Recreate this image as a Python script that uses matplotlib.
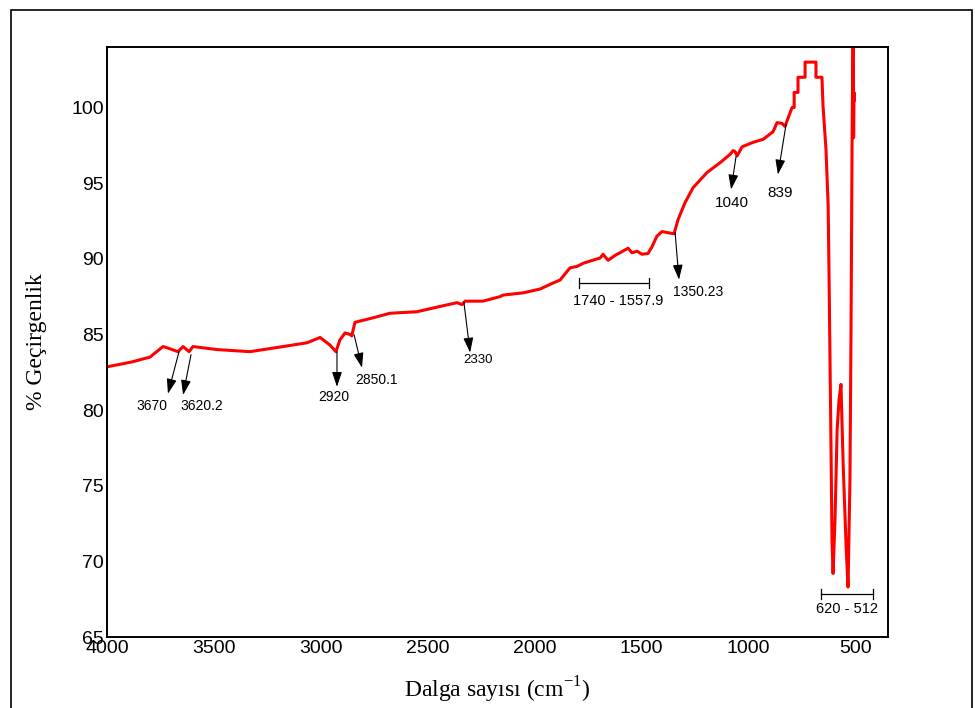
import matplotlib
matplotlib.use('Agg')
import matplotlib.pyplot as plt
from matplotlib.patches import Rectangle

# FTIR spectrum
wavenumber = [4000, 3930, 3878, 3840, 3799, 3738, 3705, 3668, 3644, 3616, 3598, 3485,
              3331, 3176, 3064, 3003, 2957, 2929, 2910, 2886, 2863, 2855,
              2840, 2755, 2676, 2550, 2442, 2362, 2339, 2325, 2241, 2161,
              2147, 2053, 1974, 1913, 1880, 1834, 1800, 1773, 1740, 1693, 1679, 1656,
              1620, 1600, 1562, 1544, 1520, 1497, 1469, 1450, 1427, 1403, 1366, 1347,
              1328, 1296, 1258, 1193, 1132, 1085, 1071, 1062, 1052, 1029,
              977, 930, 884, 865, 842, 828, 795,
              785, 785, 767, 767, 734, 734, 683, 683, 655,
              650, 636, 626, 622, 612, 608, 603, 594, 584, 575, 566,
              556, 542, 533, 524, 519, 514, 509, 507, 505, 503]
transmittance = [82.86, 83.05, 83.2, 83.35, 83.5, 84.2, 84.05, 83.86, 84.2, 83.86, 84.2, 84.0,
                 83.86, 84.2, 84.45, 84.8, 84.3, 83.86, 84.65, 85.1, 85.0, 84.9,
                 85.8, 86.1, 86.4, 86.5, 86.85, 87.1, 86.97, 87.2, 87.2, 87.5,
                 87.6, 87.75, 88.0, 88.4, 88.6, 89.4, 89.5, 89.7, 89.85, 90.05, 90.3, 89.9,
                 90.25, 90.4, 90.7, 90.4, 90.5, 90.3, 90.35, 90.8, 91.5, 91.8, 91.7, 91.66,
                 92.6, 93.7, 94.7, 95.7, 96.35, 96.9, 97.15, 97.1, 96.8, 97.4,
                 97.7, 97.9, 98.4, 99.0, 98.95, 98.75, 100.0,
                 100.0, 101.0, 101.0, 102.0, 102.0, 103.0, 103.0, 102.0, 102.0,
                 100.1, 97.2, 93.5, 89.1, 76.7, 71.4, 69.2, 72.7, 78.7, 80.7, 81.7,
                 76.5, 71.0, 68.3, 75.4, 85.3, 97.9, 106.0, 98.0, 101.0, 100.5]

# peak labels: (text, arrow tail, arrow head, text position)
peak_labels = ['3670', '3620.2', '2920', '2850.1', '2330', '1350.23', '1040', '839']
arrow_tail = [(3663, 83.86), (3607, 83.66), (2924, 83.86), (2844, 84.98),
              (2330, 87.1), (1342, 91.73), (1057, 96.76), (823, 98.88)]
arrow_head = [(3715, 81.08), (3644, 81.0), (2924, 81.54), (2807, 82.8),
              (2301, 83.8), (1324, 88.62), (1080, 94.58), (861, 95.57)]
label_pos = [(3789, 80.28), (3556, 80.28), (2938, 80.88), (2741, 82.0),
             (2264, 83.33), (1235, 87.83), (1076, 93.7), (851, 94.38)]
label_size = [10, 10, 10, 10, 9.5, 10, 11, 11]

# band ranges marked with a bracket
band_labels = ['1740 - 1557.9', '620 - 512']
band_span = [(1792, 1464), (659, 416)]
band_y = [88.42, 67.85]
band_text = [(1609, 87.23), (538, 66.85)]

fig = plt.figure(figsize=(9.75, 7.08), dpi=100)
ax = fig.add_axes([107/975, 1 - 637/708, 781/975, 590/708])

ax.plot(wavenumber, transmittance, color='#ff0000', lw=2.2)

ax.set_xlim(4000, 346)
ax.set_ylim(65, 104)
ax.set_xticks([4000, 3500, 3000, 2500, 2000, 1500, 1000, 500])
ax.set_yticks([65, 70, 75, 80, 85, 90, 95, 100])
ax.tick_params(length=0, pad=2, labelsize=14)
for lab in ax.get_xticklabels() + ax.get_yticklabels():
    lab.set_family('Liberation Sans')
for sp in ax.spines.values():
    sp.set_linewidth(1.4)

ax.set_ylabel('% Geçirgenlik', family='Liberation Serif', fontsize=17, labelpad=18)
ax.set_xlabel(r'Dalga sayısı (cm$^{\mathregular{-1}}$)', family='Liberation Serif',
              fontsize=17, labelpad=13)

for txt, tail, head, pos, fs in zip(peak_labels, arrow_tail, arrow_head, label_pos, label_size):
    ax.annotate('', xy=head, xytext=tail,
                arrowprops=dict(arrowstyle='-|>,head_length=0.9,head_width=0.3',
                                color='black', lw=0.8, mutation_scale=10,
                                shrinkA=0, shrinkB=0))
    ax.text(pos[0], pos[1], txt, ha='center', va='center', fontsize=fs,
            family='Liberation Sans')

for txt, span, y, pos in zip(band_labels, band_span, band_y, band_text):
    ax.plot(span, [y, y], color='black', lw=0.9)
    for xv in span:
        ax.plot([xv, xv], [y - 0.33, y + 0.33], color='black', lw=0.9)
    ax.text(pos[0], pos[1], txt, ha='center', va='center', fontsize=10.5,
            family='Liberation Sans')

fig.patches.append(Rectangle((11/975, -0.01), 961/975, 1.01 - 10/708,
                             transform=fig.transFigure, fill=False,
                             edgecolor='black', lw=1.2))

fig.savefig('out.png', dpi=100)
